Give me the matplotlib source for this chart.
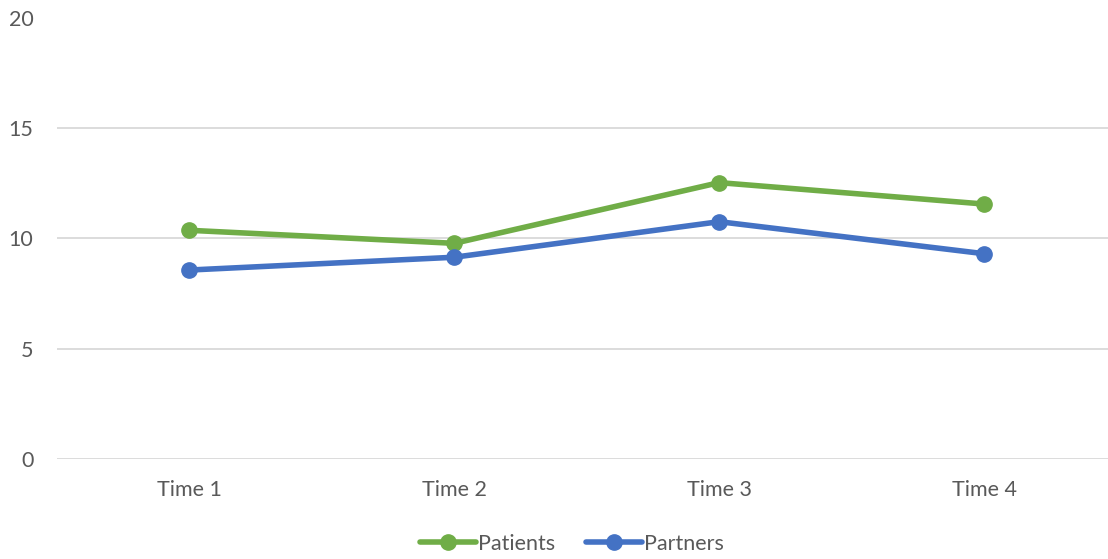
import matplotlib
matplotlib.use("Agg")
import matplotlib.pyplot as plt

categories = ["Time 1", "Time 2", "Time 3", "Time 4"]
patients = [10.36, 9.77, 12.52, 11.55]
partners = [8.56, 9.14, 10.75, 9.30]
y_ticks = [0, 5, 10, 15, 20]

plt.rcParams["font.family"] = ["Lato", "DejaVu Sans"]
text_color = "#595959"

W, H = 1108, 559
fig = plt.figure(figsize=(W / 100, H / 100), dpi=100)
left, right = 57, 1116.5
top, bottom = 17.5, 459
ax = fig.add_axes([left / W, (H - bottom) / H, (right - left) / W, (bottom - top) / H])

x = list(range(len(categories)))
ax.plot(x, patients, color="#70AD47", lw=4.0, marker="o", ms=11,
        label="Patients", zorder=3, solid_capstyle="round")
ax.plot(x, partners, color="#4472C4", lw=4.0, marker="o", ms=11,
        label="Partners", zorder=3, solid_capstyle="round")

ax.set_xlim(-0.5, len(categories) - 0.5)
ax.set_ylim(0, 20)
ax.set_yticks(y_ticks)
ax.set_xticks(x)
ax.set_xticklabels(categories)
ax.yaxis.grid(True, color="#d9d9d9", lw=1.3)
ax.set_axisbelow(True)
for s in ax.spines.values():
    s.set_visible(False)
ax.tick_params(axis="both", length=0, labelsize=15.5, labelcolor=text_color)
ax.tick_params(axis="y", pad=17)
ax.tick_params(axis="x", pad=15)

leg = fig.legend(loc="center", bbox_to_anchor=(572 / W, (H - 544) / H), ncol=2,
                 frameon=False, fontsize=15.5, handlelength=2.6,
                 handletextpad=0.1, columnspacing=1.4)
for t in leg.get_texts():
    t.set_color(text_color)

fig.savefig("out.png", dpi=100)
